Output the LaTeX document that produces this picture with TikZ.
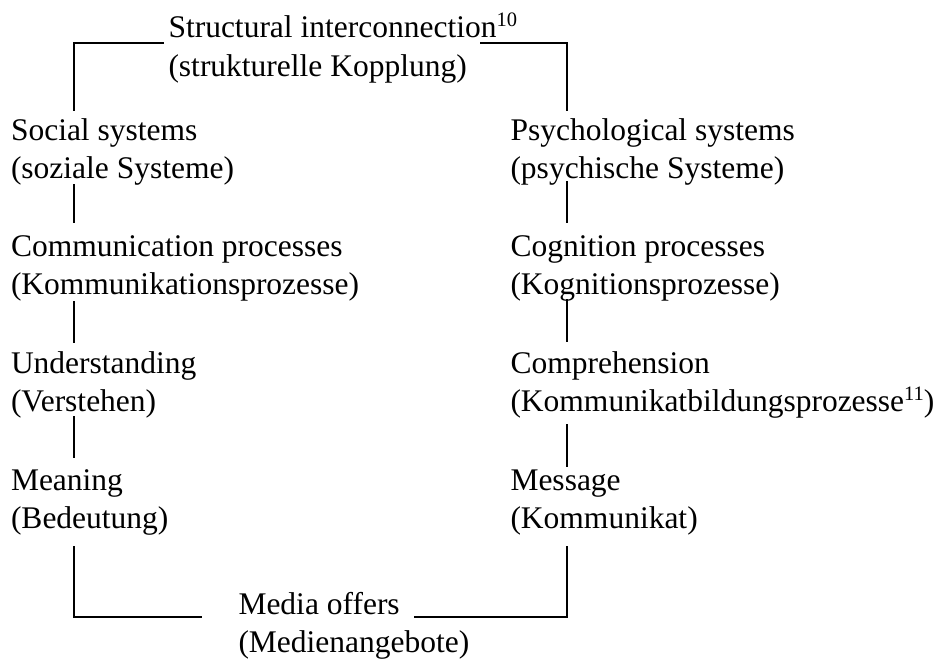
\documentclass[tikz,border=0pt]{standalone}
\usepackage{fontspec}
\setmainfont{Liberation Serif}
\usetikzlibrary{calc}

% raised footnote marker
\newcommand{\fnmark}[1]{\raisebox{11pt}{\fontsize{20.5}{20.5}\selectfont #1}}

\tikzset{
  lbl/.style={inner sep=0pt, outer sep=0pt, anchor=base west,
              font=\fontsize{31.5}{38}\selectfont},
  link/.style={line width=1.9pt, line cap=rect}
}

\begin{document}
\begin{tikzpicture}[x=1pt,y=-1pt]
  \useasboundingbox (0,0) rectangle (944,666);

  % x positions of the vertical connectors
  \coordinate (Lx) at (74,0);
  \coordinate (Rx) at (567,0);

  % top label
  \node[lbl] (top1) at (168.5,38) {Structural interconnection\fnmark{10}};
  \node[lbl] (top2) at (168.5,77) {(strukturelle Kopplung)};

  % left column
  \node[lbl] (soc1) at (11,140) {Social systems};
  \node[lbl] (soc2) at (11,178) {(soziale Systeme)};
  \node[lbl] (com1) at (11,256) {Communication processes};
  \node[lbl] (com2) at (11,294) {(Kommunikationsprozesse)};
  \node[lbl] (und1) at (11,373) {Understanding};
  \node[lbl] (und2) at (11,411) {(Verstehen)};
  \node[lbl] (mea1) at (11,490) {Meaning};
  \node[lbl] (mea2) at (11,528) {(Bedeutung)};

  % right column
  \node[lbl] (psy1) at (510.5,140) {Psychological systems};
  \node[lbl] (psy2) at (510.5,178) {(psychische Systeme)};
  \node[lbl] (cog1) at (510.5,256) {Cognition processes};
  \node[lbl] (cog2) at (510.5,294) {(Kognitionsprozesse)};
  \node[lbl] (cmp1) at (510.5,373) {Comprehension};
  \node[lbl] (cmp2) at (510.5,411) {(Kommunikatbildungsprozesse\fnmark{11})};
  \node[lbl] (msg1) at (510.5,490) {Message};
  \node[lbl] (msg2) at (510.5,528) {(Kommunikat)};

  % bottom label
  \node[lbl] (med1) at (238.5,614) {Media offers};
  \node[lbl] (med2) at (238.5,652) {(Medienangebote)};

  % coupling brackets at the top
  \draw[link] ($(top1.base west)+(-5.5,5)$) -| ($(soc1.base -| Lx)+(0,-30)$);
  \draw[link] ($(top1.base -| Rx)+(-86,5)$) -| ($(psy1.base -| Rx)+(0,-30)$);

  % left chain
  \draw[link] ($(soc2.base -| Lx)+(0,7)$) -- ($(com1.base -| Lx)+(0,-34)$);
  \draw[link] ($(com2.base -| Lx)+(0,7.5)$) -- ($(und1.base -| Lx)+(0,-31)$);
  \draw[link] ($(und2.base -| Lx)+(0,6)$) -- ($(mea1.base -| Lx)+(0,-33)$);

  % right chain
  \draw[link] ($(psy2.base -| Rx)+(0,4)$) -- ($(cog1.base -| Rx)+(0,-34)$);
  \draw[link] ($(cog2.base -| Rx)+(0,6)$) -- ($(cmp1.base -| Rx)+(0,-32)$);
  \draw[link] ($(cmp2.base -| Rx)+(0,14)$) -- ($(msg1.base -| Rx)+(0,-24)$);

  % brackets joining at the media offers
  \draw[link] ($(mea2.base -| Lx)+(0,19)$) |- ($(med1.base west)+(-37,3)$);
  \draw[link] ($(msg2.base -| Rx)+(0,19)$) |- ($(med1.base east)+(15,3)$);
\end{tikzpicture}
\end{document}
